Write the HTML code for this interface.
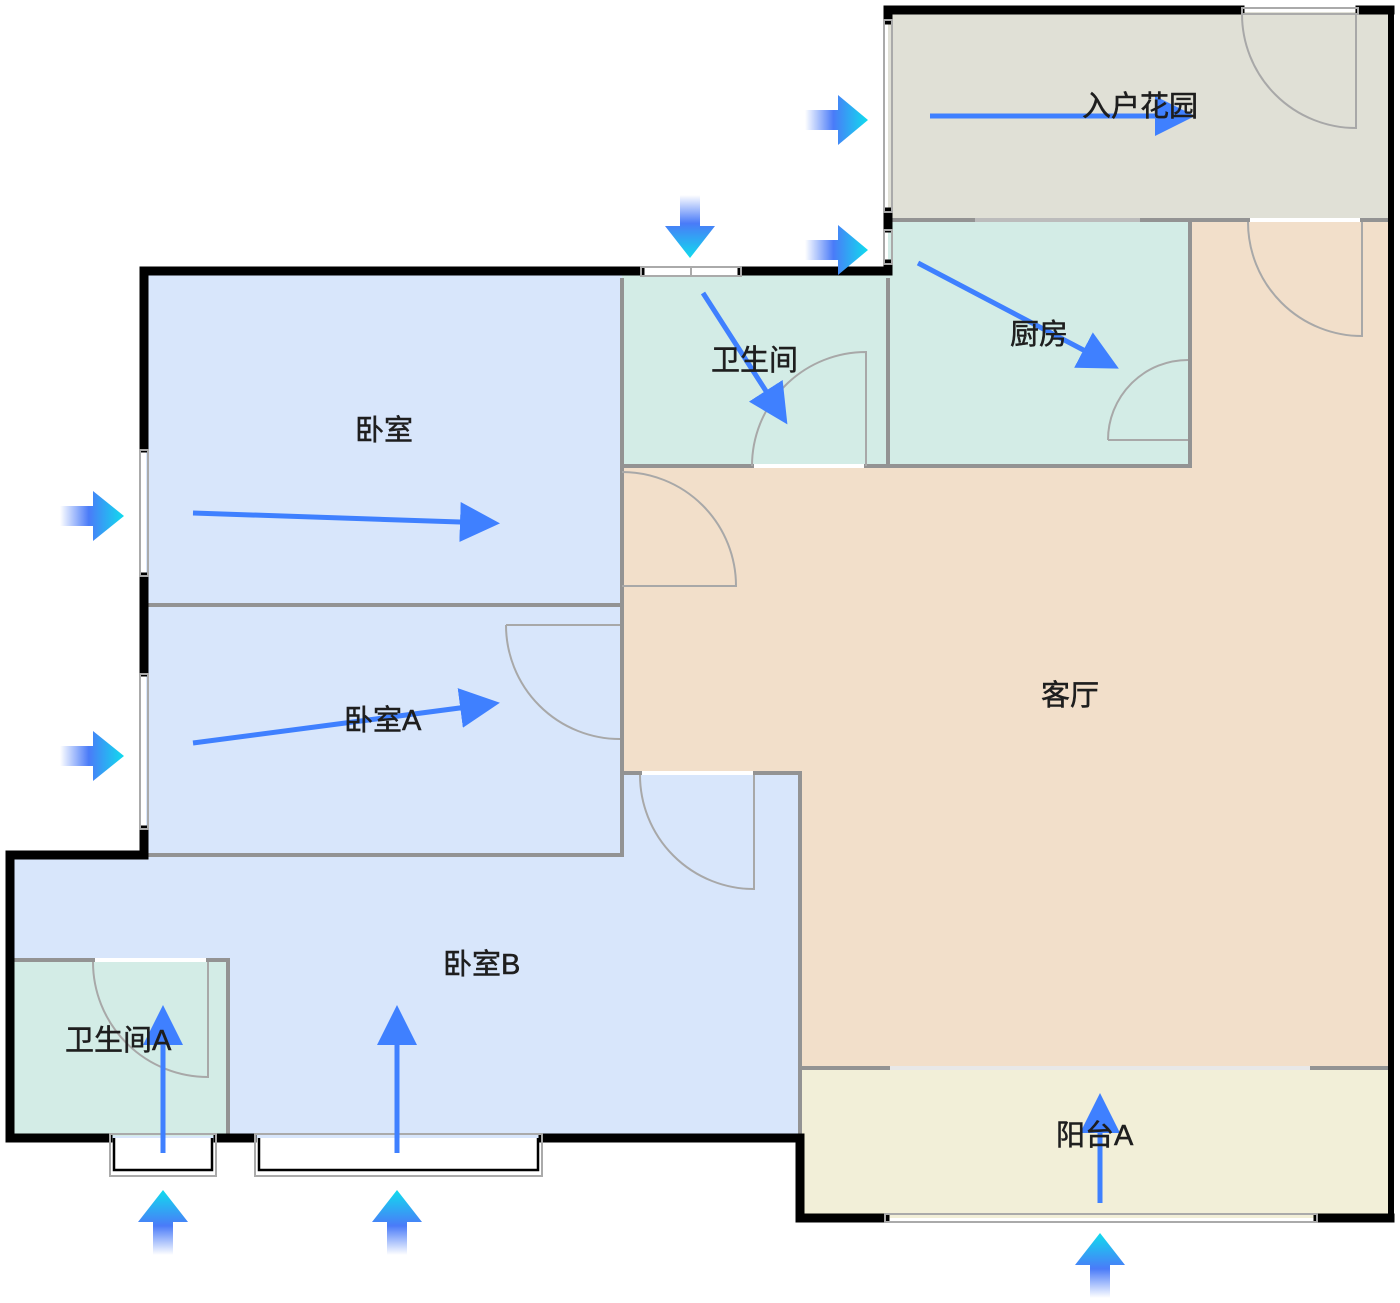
<!DOCTYPE html>
<html><head><meta charset="utf-8"><style>
html,body{margin:0;padding:0;background:#fff;}
svg{display:block;}
text{font-family:"Liberation Sans","Noto Sans CJK SC",sans-serif;font-size:29px;fill:#1e1e1e;stroke:#1e1e1e;stroke-width:0.5px;}
</style></head><body>
<svg width="1400" height="1303" viewBox="0 0 1400 1303" xmlns="http://www.w3.org/2000/svg">
<defs>
<linearGradient id="gr" x1="0" y1="0" x2="1" y2="0"><stop offset="0" stop-color="#fff"/><stop offset="0.45" stop-color="#4a7bf8"/><stop offset="1" stop-color="#10dcee"/></linearGradient>
<linearGradient id="gd" x1="0" y1="0" x2="0" y2="1"><stop offset="0" stop-color="#fff"/><stop offset="0.45" stop-color="#4a7bf8"/><stop offset="1" stop-color="#10dcee"/></linearGradient>
<linearGradient id="gu" x1="0" y1="1" x2="0" y2="0"><stop offset="0" stop-color="#fff"/><stop offset="0.45" stop-color="#4a7bf8"/><stop offset="1" stop-color="#10dcee"/></linearGradient>
<marker id="ah" markerUnits="userSpaceOnUse" markerWidth="44" markerHeight="44" refX="30" refY="20" orient="auto" viewBox="0 0 44 44"><path d="M0,0 L40,20 L0,40 Z" fill="#3f80ff"/></marker>
</defs>
<rect x="888" y="12" width="502" height="208" fill="#e0e0d6"/>
<rect x="888" y="220" width="302" height="246" fill="#d3ece6"/>
<rect x="622" y="275" width="266" height="191" fill="#d3ece6"/>
<rect x="146" y="275" width="476" height="580" fill="#d8e6fb"/>
<polygon points="622,466 1190,466 1190,220 1390,220 1390,1068 800,1068 800,773 622,773" fill="#f2dfca"/>
<polygon points="12,855 622,855 622,773 800,773 800,1138 12,1138" fill="#d8e6fb"/>
<rect x="12" y="960" width="216" height="176" fill="#d3ece6"/>
<rect x="800" y="1068" width="590" height="150" fill="#f2efd8"/>
<g stroke="#939393" stroke-width="4" fill="none">
<line x1="622" y1="278" x2="622" y2="855"/>
<line x1="620" y1="466" x2="1192" y2="466"/>
<line x1="888" y1="278" x2="888" y2="466"/>
<line x1="1190" y1="220" x2="1190" y2="468"/>
<line x1="888" y1="220" x2="1390" y2="220"/>
<line x1="146" y1="605" x2="622" y2="605"/>
<line x1="146" y1="855" x2="624" y2="855"/>
<line x1="800" y1="771" x2="800" y2="1140"/>
<line x1="620" y1="773" x2="802" y2="773"/>
<line x1="800" y1="1068" x2="1390" y2="1068"/>
<line x1="12" y1="960" x2="230" y2="960"/>
<line x1="228" y1="958" x2="228" y2="1140"/>
</g>
<g stroke="#fff" stroke-width="4">
<line x1="754" y1="466" x2="864" y2="466"/>
<line x1="642" y1="773" x2="753" y2="773"/>
<line x1="1250" y1="220" x2="1360" y2="220"/>
<line x1="95" y1="960" x2="206" y2="960"/>
<line x1="975" y1="220" x2="1140" y2="220" stroke="#bcbcbc"/>
<line x1="890" y1="1068" x2="1310" y2="1068" stroke="#e8e8e8"/>
</g>
<g stroke="#a8a8a8" stroke-width="2" fill="none">
<path d="M752,466 A114,114 0 0 1 866,352 L866,466"/>
<path d="M1108,440 A80,80 0 0 1 1188,360"/><line x1="1108" y1="440" x2="1188" y2="440"/>
<path d="M622,472 A114,114 0 0 1 736,586 L622,586"/>
<path d="M506,625 A114,114 0 0 0 620,739 M506,625 L620,625"/>
<path d="M640,775 A114,114 0 0 0 754,889 L754,775"/>
<path d="M1248,222 A114,114 0 0 0 1362,336 L1362,222"/>
<path d="M1242,14 A114,114 0 0 0 1356,128 L1356,14"/>
<path d="M93,962 A115,115 0 0 0 208,1077 L208,962"/>
</g>
<g stroke="#000" stroke-width="9" fill="none" stroke-linecap="square">
<line x1="144" y1="271" x2="640" y2="271"/>
<line x1="742" y1="271" x2="884" y2="271"/>
<line x1="144" y1="271" x2="144" y2="448"/>
<line x1="144" y1="577" x2="144" y2="672"/>
<line x1="144" y1="830" x2="144" y2="855"/>
<line x1="10" y1="855" x2="144" y2="855"/>
<line x1="10" y1="855" x2="10" y2="1138"/>
<line x1="10" y1="1138" x2="108" y2="1138"/>
<line x1="218" y1="1138" x2="252" y2="1138"/>
<line x1="543" y1="1138" x2="800" y2="1138"/>
<line x1="800" y1="1138" x2="800" y2="1218"/>
<line x1="800" y1="1218" x2="885" y2="1218"/>
<line x1="1318" y1="1218" x2="1390" y2="1218"/>
<line x1="888" y1="10" x2="1240" y2="10"/>
<line x1="1360" y1="10" x2="1390" y2="10"/>
<line x1="888" y1="10" x2="888" y2="20"/>
<line x1="888" y1="212" x2="888" y2="228"/>
<line x1="888" y1="264" x2="888" y2="271"/>
</g>
<line x1="1391" y1="8" x2="1391" y2="1222" stroke="#000" stroke-width="6"/>
<g stroke="#aaa" stroke-width="2" fill="none">
<rect x="641" y="267" width="100" height="9"/><line x1="691" y1="267" x2="691" y2="276"/>
<rect x="140" y="450" width="8" height="126"/><rect x="140" y="674" width="8" height="155"/>
<rect x="884" y="20" width="8" height="192"/><rect x="884" y="230" width="8" height="34"/>
<rect x="885" y="1214" width="432" height="8"/>
<rect x="1242" y="8" width="116" height="6"/>
<rect x="110" y="1134" width="106" height="42"/><rect x="255" y="1134" width="287" height="42"/>
</g>
<g stroke="#000" stroke-width="2.5" fill="none">
<path d="M114,1138 L114,1170 L212,1170 L212,1138"/>
<path d="M259,1138 L259,1170 L538,1170 L538,1138"/>
</g>
<polygon points="805,110 838,110 838,95 868,120 838,145 838,130 805,130" fill="url(#gr)"/>
<polygon points="805,240 838,240 838,225 868,250 838,275 838,260 805,260" fill="url(#gr)"/>
<polygon points="60,506 93,506 93,491 124,516 93,541 93,526 60,526" fill="url(#gr)"/>
<polygon points="60,746 93,746 93,731 124,756 93,781 93,766 60,766" fill="url(#gr)"/>
<polygon points="680,195 700,195 700,226 715,226 690,258 665,226 680,226" fill="url(#gd)"/>
<polygon points="153,1255 173,1255 173,1222 188,1222 163,1190 138,1222 153,1222" fill="url(#gu)"/>
<polygon points="387,1255 407,1255 407,1222 422,1222 397,1190 372,1222 387,1222" fill="url(#gu)"/>
<polygon points="1090,1298 1110,1298 1110,1265 1125,1265 1100,1233 1075,1265 1090,1265" fill="url(#gu)"/>
<g stroke="#3f80ff" stroke-width="5" fill="none" marker-end="url(#ah)">
<line x1="930" y1="116" x2="1185" y2="116"/>
<line x1="918" y1="263" x2="1110" y2="364"/>
<line x1="703" y1="293" x2="782" y2="416"/>
<line x1="193" y1="513" x2="490" y2="523"/>
<line x1="193" y1="743" x2="490" y2="704"/>
<line x1="163" y1="1153" x2="163" y2="1015"/>
<line x1="397" y1="1153" x2="397" y2="1015"/>
<line x1="1100" y1="1203" x2="1100" y2="1103"/>
</g>
<text x="1082" y="116">入户花园</text>
<text x="1010" y="344">厨房</text>
<text x="711" y="370">卫生间</text>
<text x="355" y="440">卧室</text>
<text x="344" y="730">卧室A</text>
<text x="1041" y="705">客厅</text>
<text x="443" y="974">卧室B</text>
<text x="65" y="1050">卫生间A</text>
<text x="1056" y="1145">阳台A</text>
</svg>
</body></html>
